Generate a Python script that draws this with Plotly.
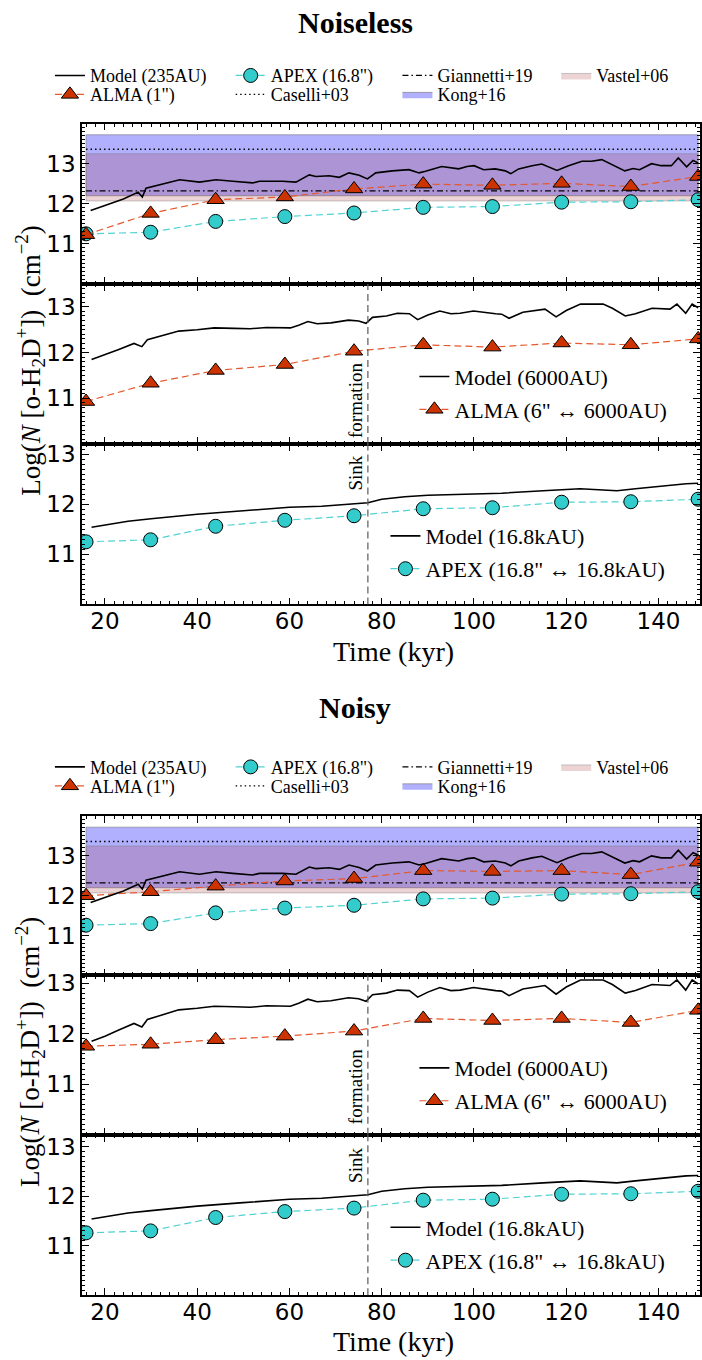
import plotly.graph_objects as go

# ---------------- data ----------------
times = [15.9, 29.9, 44.0, 59.0, 74.0, 89.0, 104.0, 119.0, 134.0, 148.6]

alma1_noiseless = [11.23, 11.76, 12.10, 12.17, 12.37, 12.49, 12.46, 12.51, 12.43, 12.68]
apex_noiseless = [11.25, 11.29, 11.56, 11.68, 11.77, 11.91, 11.93, 12.04, 12.05, 12.10]
alma6_noiseless = [10.93, 11.33, 11.61, 11.74, 12.03, 12.17, 12.12, 12.21, 12.17, 12.30]

alma1_noisy = [12.00, 12.10, 12.24, 12.37, 12.43, 12.63, 12.61, 12.63, 12.53, 12.84]
apex_noisy = [11.26, 11.30, 11.57, 11.69, 11.76, 11.92, 11.94, 12.04, 12.05, 12.10]
alma6_noisy = [11.75, 11.79, 11.88, 11.95, 12.05, 12.30, 12.26, 12.30, 12.22, 12.46]

model235_t = [16.9, 20.0, 24.0, 27.2, 28.1, 28.9, 31.8, 36.2, 40.5, 44.1, 47.7, 52.0, 53.5,
              58.5, 61.4, 64.3, 65.7, 68.6, 70.8, 72.9, 75.1, 76.9, 78.7, 82.3, 85.9, 88.1,
              89.5, 93.0, 96.7, 98.5, 100.0, 102.1, 104.6, 106.8, 108.0, 109.7, 112.6, 114.7,
              118.0, 120.5, 123.4, 125.5, 127.7, 130.2, 132.7, 134.5, 135.9, 138.5, 140.6,
              142.8, 144.3, 146.1, 147.5, 148.6]
model235_v = [11.83, 11.96, 12.12, 12.29, 12.17, 12.39, 12.47, 12.60, 12.54, 12.60, 12.56, 12.52,
              12.56, 12.56, 12.54, 12.72, 12.68, 12.70, 12.66, 12.77, 12.71, 12.62, 12.77, 12.82,
              12.85, 12.77, 12.81, 12.93, 12.87, 12.93, 12.95, 12.85, 12.87, 12.82, 12.75, 12.87,
              12.95, 12.99, 12.83, 12.95, 13.06, 13.06, 13.10, 12.95, 12.82, 12.88, 12.85, 13.00,
              12.95, 12.95, 13.14, 12.92, 13.08, 13.02]

model6000_t = [17.1, 20.0, 23.0, 26.3, 28.0, 29.2, 32.0, 36.0, 40.0, 43.7, 48.0, 51.5, 55.0,
               60.2, 62.0, 64.0, 66.0, 69.0, 72.8, 75.0, 76.6, 78.0, 81.0, 83.4, 86.0, 87.8,
               90.0, 92.6, 95.0, 97.0, 99.9, 102.0, 104.7, 106.0, 107.6, 110.6, 113.0, 115.4,
               117.8, 120.0, 123.1, 128.0, 130.0, 132.8, 135.0, 138.6, 142.5, 144.0, 145.9,
               147.3, 148.6]
model6000_v = [11.85, 11.95, 12.07, 12.20, 12.13, 12.28, 12.36, 12.47, 12.50, 12.54, 12.53, 12.52,
               12.55, 12.54, 12.60, 12.68, 12.63, 12.65, 12.71, 12.69, 12.64, 12.77, 12.80, 12.86,
               12.85, 12.72, 12.82, 12.91, 12.85, 12.86, 12.91, 12.88, 12.85, 12.84, 12.75, 12.88,
               12.92, 12.95, 12.78, 12.92, 13.06, 13.06, 12.97, 12.80, 12.85, 12.97, 12.95, 13.06,
               12.86, 13.06, 12.98]

model16k_t = [17.1, 25.0, 30.0, 40.0, 50.0, 60.0, 67.0, 75.0, 77.0, 80.0, 85.0, 90.0, 100.0,
              106.0, 115.0, 120.0, 123.0, 127.0, 131.0, 135.0, 140.0, 144.0, 146.0, 148.6]
model16k_v = [11.54, 11.66, 11.71, 11.80, 11.87, 11.94, 11.96, 12.02, 12.03, 12.10, 12.15, 12.18,
              12.21, 12.22, 12.27, 12.29, 12.31, 12.29, 12.27, 12.31, 12.36, 12.39, 12.41, 12.42]

caselli03 = 13.36
giannetti19 = 12.32
kong16 = [12.20, 13.72]
vastel06 = [12.07, 13.25]
sink_time = 77.0

x_ticks = [20, 40, 60, 80, 100, 120, 140]
y_ticks = [11, 12, 13]

legend_names = {
    "model235": "Model (235AU)", "apex": "APEX (16.8\")", "giannetti": "Giannetti+19",
    "vastel": "Vastel+06", "alma1": "ALMA (1\")", "caselli": "Caselli+03", "kong": "Kong+16",
    "model6000": "Model (6000AU)", "alma6": "ALMA (6\" \u2194 6000AU)",
    "model16k": "Model (16.8kAU)", "apex16": "APEX (16.8\" \u2194 16.8kAU)",
}

# ---------------- style ----------------
W, H = 702, 1360
SERIF = "Liberation Serif"
SANS = "DejaVu Sans"
ALMA_MK = "rgb(204,51,0)"
ALMA_LN = "rgb(228,88,44)"
APEX_MK = "rgb(51,204,204)"
APEX_LN = "rgb(80,210,210)"
XL, XR = 82, 701

panels = [  # (top px, bottom px, y range)
    (119, 280, [10, 14]), (280, 440.7, [10, 13.5]), (440.7, 601.7, [10, 13.2]),
    (814, 974, [10, 14]), (974, 1134, [10, 13.15]), (1134, 1295, [10, 13.24]),
]
OFF = 694  # vertical offset of the lower block

def py(p):
    return 1 - p / H

fig = go.Figure()
legend_layout = {}
legend_count = [0]

def new_legend(text_x, y_px, size):
    legend_count[0] += 1
    n = legend_count[0]
    name = "legend" if n == 1 else f"legend{n}"
    legend_layout[name] = dict(
        x=(text_x - 42) / W, xanchor="left", y=py(y_px), yanchor="middle",
        font=dict(family=SERIF, size=size, color="black"),
        bgcolor="rgba(0,0,0,0)", borderwidth=0, orientation="v",
        itemwidth=30, tracegroupgap=0,
    )
    return name

top_cols = [92, 273, 440, 599]

for b in range(2):
    off = 0 if b == 0 else OFF
    alma1 = alma1_noiseless if b == 0 else alma1_noisy
    apex = apex_noiseless if b == 0 else apex_noisy
    alma6 = alma6_noiseless if b == 0 else alma6_noisy
    ax1, ax2, ax3 = (1, 2, 3) if b == 0 else (4, 5, 6)

    def axn(i):
        return ("x" if i == 1 else f"x{i}"), ("y" if i == 1 else f"y{i}")

    xa1, ya1 = axn(ax1)
    xa2, ya2 = axn(ax2)
    xa3, ya3 = axn(ax3)
    r1 = 71 + off
    r2 = 90 + off

    band_x = [times[0], times[-1], times[-1], times[0], times[0]]
    # Kong+16 band
    fig.add_trace(go.Scatter(
        x=band_x, y=[kong16[0], kong16[0], kong16[1], kong16[1], kong16[0]],
        fill="toself", fillcolor="rgba(0,0,255,0.31)", mode="lines",
        line=dict(color="rgba(120,120,120,0.6)", width=1),
        name=legend_names["kong"], xaxis=xa1, yaxis=ya1,
        legend=new_legend(top_cols[2], r2, 18), hoverinfo="skip"))
    # Vastel+06 band
    fig.add_trace(go.Scatter(
        x=band_x, y=[vastel06[0], vastel06[0], vastel06[1], vastel06[1], vastel06[0]],
        fill="toself", fillcolor="rgba(165,42,42,0.2)", mode="lines",
        line=dict(color="rgba(120,120,120,0.4)", width=1),
        name=legend_names["vastel"], xaxis=xa1, yaxis=ya1,
        legend=new_legend(top_cols[3], r1, 18), hoverinfo="skip"))
    # Caselli+03
    fig.add_trace(go.Scatter(
        x=[times[0], times[-1]], y=[caselli03, caselli03], mode="lines",
        line=dict(color="black", width=1.3, dash="1.5px,3px"),
        name=legend_names["caselli"], xaxis=xa1, yaxis=ya1,
        legend=new_legend(top_cols[1], r2, 18)))
    # Giannetti+19
    fig.add_trace(go.Scatter(
        x=[times[0], times[-1]], y=[giannetti19, giannetti19], mode="lines",
        line=dict(color="black", width=1.3, dash="6px,3px,1.5px,3px"),
        name=legend_names["giannetti"], xaxis=xa1, yaxis=ya1,
        legend=new_legend(top_cols[2], r1, 18)))
    # APEX 16.8"
    fig.add_trace(go.Scatter(
        x=times, y=apex, mode="lines+markers",
        line=dict(color=APEX_LN, width=1.2, dash="7px,4px"),
        marker=dict(symbol="circle", size=14, color=APEX_MK, line=dict(color="black", width=1)),
        name=legend_names["apex"], xaxis=xa1, yaxis=ya1,
        legend=new_legend(top_cols[1], r1, 18)))
    # ALMA 1"
    fig.add_trace(go.Scatter(
        x=times, y=alma1, mode="lines+markers",
        line=dict(color=ALMA_LN, width=1.2, dash="7px,4px"),
        marker=dict(symbol="triangle-up", size=15, color=ALMA_MK, line=dict(color="black", width=1)),
        name=legend_names["alma1"], xaxis=xa1, yaxis=ya1,
        legend=new_legend(top_cols[0], r2, 18)))
    # Model 235AU
    fig.add_trace(go.Scatter(
        x=model235_t, y=model235_v, mode="lines", line=dict(color="black", width=1.6),
        name=legend_names["model235"], xaxis=xa1, yaxis=ya1,
        legend=new_legend(top_cols[0], r1, 18)))

    # panel 2
    fig.add_trace(go.Scatter(
        x=model6000_t, y=model6000_v, mode="lines", line=dict(color="black", width=1.6),
        name=legend_names["model6000"], xaxis=xa2, yaxis=ya2,
        legend=new_legend(457, 373 + off, 22)))
    fig.add_trace(go.Scatter(
        x=times, y=alma6, mode="lines+markers",
        line=dict(color=ALMA_LN, width=1.2, dash="7px,4px"),
        marker=dict(symbol="triangle-up", size=15, color=ALMA_MK, line=dict(color="black", width=1)),
        name=legend_names["alma6"], xaxis=xa2, yaxis=ya2,
        legend=new_legend(457, 406 + off, 22)))

    # panel 3
    fig.add_trace(go.Scatter(
        x=model16k_t, y=model16k_v, mode="lines", line=dict(color="black", width=1.6),
        name=legend_names["model16k"], xaxis=xa3, yaxis=ya3,
        legend=new_legend(428, 533 + off, 22)))
    fig.add_trace(go.Scatter(
        x=times, y=apex, mode="lines+markers",
        line=dict(color=APEX_LN, width=1.2, dash="7px,4px"),
        marker=dict(symbol="circle", size=14, color=APEX_MK, line=dict(color="black", width=1)),
        name=legend_names["apex16"], xaxis=xa3, yaxis=ya3,
        legend=new_legend(428, 566 + off, 22)))

    # sink formation line
    for xa, ya in ((xa2, ya2), (xa3, ya3)):
        fig.add_shape(type="line", xref=xa, yref=f"{ya} domain", x0=sink_time, x1=sink_time,
                      y0=0, y1=1, line=dict(color="rgb(90,90,90)", width=1.2, dash="7px,4px"))
    fig.add_annotation(text="formation", xref=xa2, yref=ya2, x=sink_time, y=10.95,
                       xanchor="right", yanchor="middle", textangle=-90, showarrow=False,
                       font=dict(family=SERIF, size=19, color="black"))
    fig.add_annotation(text="Sink", xref=xa3, yref=ya3, x=sink_time, y=12.62,
                       xanchor="right", yanchor="middle", textangle=-90, showarrow=False,
                       font=dict(family=SERIF, size=19, color="black"))

    # titles
    fig.add_annotation(text="<b>" + ("Noiseless" if b == 0 else "Noisy") + "</b>",
                       xref="paper", yref="paper", x=356 / W, y=py(18 + (0 if b == 0 else 687)),
                       xanchor="center", yanchor="middle", showarrow=False,
                       font=dict(family=SERIF, size=30, color="black"))
    fig.add_annotation(text="Time (kyr)", xref="paper", yref="paper", x=394 / W,
                       y=py(649 + (0 if b == 0 else 692)), xanchor="center", yanchor="middle",
                       showarrow=False, font=dict(family=SERIF, size=28, color="black"))
    fig.add_annotation(text="Log(<i>N</i> [o-H<sub>2</sub>D<sup>+</sup>])\u00a0\u00a0(cm<sup>\u22122</sup>)",
                       xref="paper", yref="paper", x=30 / W, y=py(357 + off),
                       xanchor="center", yanchor="middle", textangle=-90, showarrow=False,
                       font=dict(family=SERIF, size=27, color="black"))

layout_axes = {}
for i, (top, bot, yr) in enumerate(panels, start=1):
    xk = "xaxis" if i == 1 else f"xaxis{i}"
    yk = "yaxis" if i == 1 else f"yaxis{i}"
    yanchor = "y" if i == 1 else f"y{i}"
    xanchor = "x" if i == 1 else f"x{i}"
    layout_axes[xk] = dict(
        domain=[XL / W, XR / W], anchor=yanchor, range=[15, 149],
        tickvals=x_ticks, showticklabels=(i in (3, 6)),
        ticks="inside", ticklen=7, tickwidth=1, tickcolor="black",
        ticklabelstandoff=-5,
        minor=dict(dtick=2, tick0=0, ticks="inside", ticklen=3.5, tickwidth=1, tickcolor="black"),
        showline=True, linecolor="black", linewidth=1.5, mirror="allticks",
        showgrid=False, zeroline=False,
        tickfont=dict(family=SANS, size=23, color="black"),
    )
    layout_axes[yk] = dict(
        domain=[py(bot), py(top)], anchor=xanchor, range=yr,
        tickvals=y_ticks, ticks="inside", ticklen=7, tickwidth=1, tickcolor="black",
        minor=dict(dtick=0.1, tick0=0, ticks="inside", ticklen=3.5, tickwidth=1, tickcolor="black"),
        showline=True, linecolor="black", linewidth=1.5, mirror="allticks",
        showgrid=False, zeroline=False,
        tickfont=dict(family=SANS, size=23, color="black"),
    )

fig.update_layout(
    width=W, height=H, autosize=False,
    margin=dict(l=0, r=0, t=0, b=0),
    paper_bgcolor="white", plot_bgcolor="white",
    showlegend=True,
    **layout_axes,
    **legend_layout,
)

fig.write_html("out.html")
